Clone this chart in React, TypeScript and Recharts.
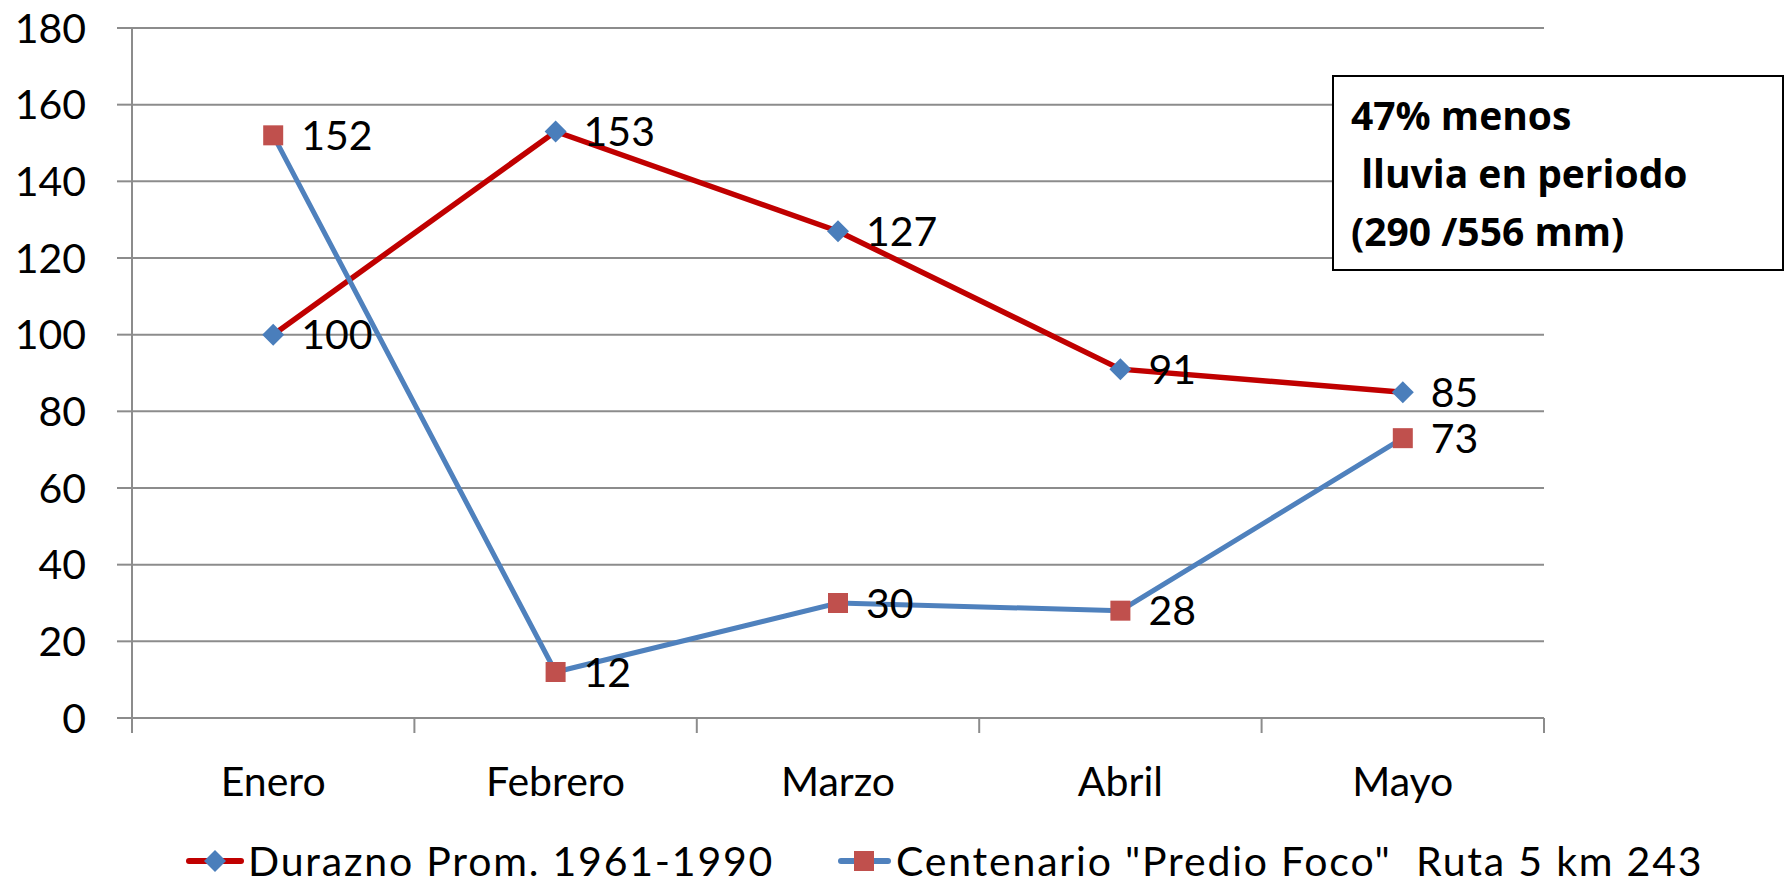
import { LineChart, Line, XAxis, YAxis, CartesianGrid, LabelList, Legend } from 'recharts';

const COLORS = {
  red: '#C00000',
  blue: '#4F81BD',
  diamond: '#4A7EBB',
  square: '#C0504D',
  grid: '#8C8C8C',
  text: '#000000',
};

const FONT = 'Lato, "Open Sans", sans-serif';
const BOX_FONT = '"Open Sans", Lato, sans-serif';

const months = ['Enero', 'Febrero', 'Marzo', 'Abril', 'Mayo'];
const durazno = [100, 153, 127, 91, 85];
const centenario = [152, 12, 30, 28, 73];
const yTicks = [0, 20, 40, 60, 80, 100, 120, 140, 160, 180];

const legendNames = ['Durazno Prom. 1961-1990', 'Centenario "Predio Foco"'];
const legendNote = 'Ruta 5 km 243';
const noteLines = ['47% menos', ' lluvia en periodo', '(290 /556 mm)'];

const chartData = months.map((name, i) => ({
  name,
  x: i + 0.5,
  durazno: durazno[i],
  centenario: centenario[i],
}));

const boundaryTicks = months.map((_m, i) => i).concat(months.length);
const centerTicks = months.map((_m, i) => i + 0.5);

const Diamond = ({ cx, cy, size = 11 }: any) => (
  <path
    d={`M${cx},${cy - size} L${cx + size},${cy} L${cx},${cy + size} L${cx - size},${cy} Z`}
    fill={COLORS.diamond}
  />
);

const Square = ({ cx, cy, side = 20 }: any) => (
  <rect x={cx - side / 2} y={cy - side / 2} width={side} height={side} fill={COLORS.square} />
);

const LegendContent = () => {
  const itemStyle = { position: 'absolute' as const, top: 0, display: 'flex', alignItems: 'center', height: 46 };
  const textStyle = {
    fontFamily: FONT,
    fontSize: 41,
    color: COLORS.text,
    whiteSpace: 'pre' as const,
    lineHeight: '46px',
    letterSpacing: 1.8,
  };
  return (
    <div style={{ position: 'relative', width: 1787, height: 46 }}>
      <div style={{ ...itemStyle, left: 186 }}>
        <svg width={60} height={24}>
          <line x1={3} y1={12} x2={55} y2={12} stroke={COLORS.red} strokeWidth={6} strokeLinecap="round" />
          <Diamond cx={29} cy={12} size={11} />
        </svg>
        <span style={{ ...textStyle, marginLeft: 2 }}>{legendNames[0]}</span>
      </div>
      <div style={{ ...itemStyle, left: 838 }}>
        <svg width={54} height={24}>
          <line x1={3} y1={12} x2={50} y2={12} stroke={COLORS.blue} strokeWidth={6} strokeLinecap="round" />
          <Square cx={26} cy={12} side={20} />
        </svg>
        <span style={{ ...textStyle, marginLeft: 4 }}>{legendNames[1]}</span>
      </div>
      <div style={{ ...itemStyle, left: 1416 }}>
        <span style={textStyle}>{legendNote}</span>
      </div>
    </div>
  );
};

export default function App() {
  return (
    <div style={{ position: 'absolute', left: 0, top: 0, width: 1787, height: 884, background: '#fff' }}>
      <LineChart
        width={1787}
        height={884}
        data={chartData}
        margin={{ top: 28, right: 243, left: 0, bottom: 164 }}
      >
        <CartesianGrid vertical={false} stroke={COLORS.grid} strokeWidth={2} />
        <XAxis
          xAxisId="b"
          type="number"
          dataKey="x"
          domain={[0, months.length]}
          ticks={boundaryTicks}
          interval={0}
          tickFormatter={() => ''}
          tickSize={15}
          height={1}
          axisLine={{ stroke: COLORS.grid, strokeWidth: 2 }}
          tickLine={{ stroke: COLORS.grid, strokeWidth: 2 }}
        />
        <XAxis
          xAxisId="m"
          type="number"
          dataKey="x"
          domain={[0, months.length]}
          ticks={centerTicks}
          tickFormatter={(v: number) => months[Math.floor(v)]}
          interval={0}
          axisLine={false}
          tickLine={false}
          tickSize={0}
          tickMargin={48}
          height={1}
          tick={{ fontFamily: FONT, fontSize: 41, fill: COLORS.text }}
        />
        <YAxis
          domain={[0, 180]}
          ticks={yTicks}
          interval={0}
          width={132}
          tickSize={15}
          tickMargin={31}
          axisLine={{ stroke: COLORS.grid, strokeWidth: 2 }}
          tickLine={{ stroke: COLORS.grid, strokeWidth: 2 }}
          tick={{ fontFamily: FONT, fontSize: 41, fill: COLORS.text }}
        />
        <Legend
          layout="horizontal"
          verticalAlign="middle"
          align="center"
          wrapperStyle={{ position: 'absolute', top: 838, left: 0, width: 1787 }}
          content={<LegendContent />}
        />
        <Line
          xAxisId="b"
          dataKey="durazno"
          name={legendNames[0]}
          stroke={COLORS.red}
          strokeWidth={5.5}
          dot={<Diamond size={11} />}
          activeDot={false}
          isAnimationActive={false}
        >
          <LabelList
            dataKey="durazno"
            position="right"
            offset={28}
            style={{ fontFamily: FONT, fontSize: 41, fill: COLORS.text }}
          />
        </Line>
        <Line
          xAxisId="b"
          dataKey="centenario"
          name={legendNames[1]}
          stroke={COLORS.blue}
          strokeWidth={5}
          dot={<Square side={20} />}
          activeDot={false}
          isAnimationActive={false}
        >
          <LabelList
            dataKey="centenario"
            position="right"
            offset={28}
            style={{ fontFamily: FONT, fontSize: 41, fill: COLORS.text }}
          />
        </Line>
      </LineChart>
      <div
        style={{
          position: 'absolute',
          left: 1332,
          top: 75,
          width: 452,
          height: 196,
          boxSizing: 'border-box',
          border: '2px solid #000',
          background: '#fff',
          paddingLeft: 17,
          paddingTop: 9,
          fontFamily: BOX_FONT,
          fontWeight: 700,
          fontSize: 39,
          lineHeight: '58px',
          color: COLORS.text,
        }}
      >
        {noteLines.map((t) => (
          <div key={t} style={{ whiteSpace: 'pre' }}>{t}</div>
        ))}
      </div>
    </div>
  );
}
